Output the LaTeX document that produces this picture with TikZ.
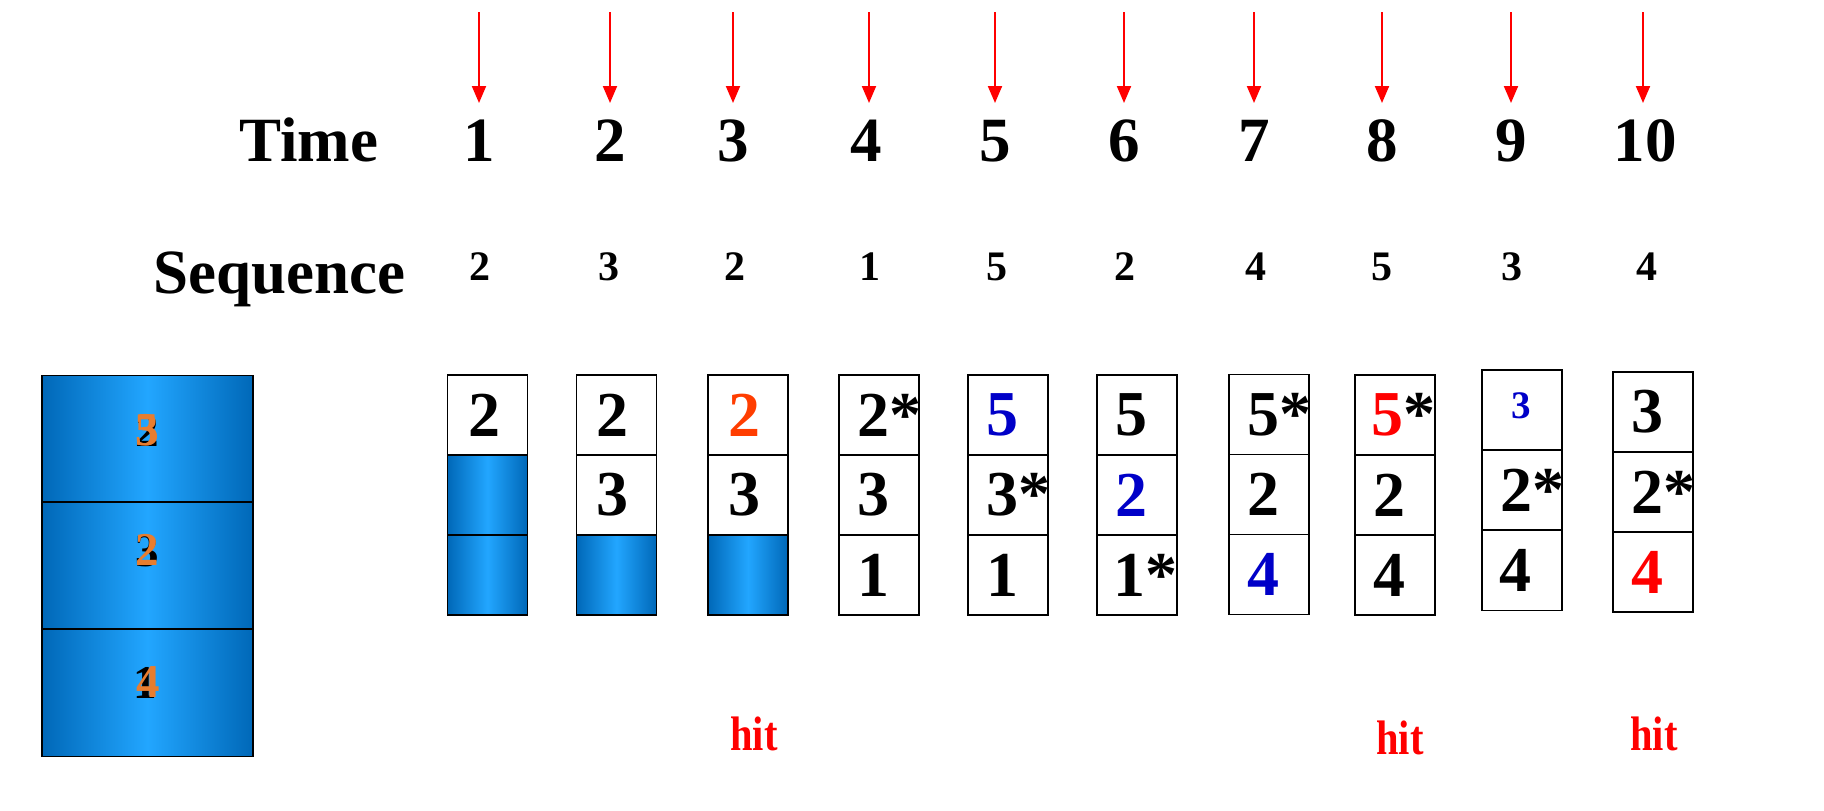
\documentclass[tikz,border=0pt]{standalone}
\usepackage{fontspec}
\setmainfont{Liberation Serif}
\usetikzlibrary{arrows.meta}
\definecolor{arrred}{HTML}{FF0000}
\definecolor{hitred}{HTML}{FF0000}
\definecolor{hotorange}{HTML}{FF3D00}
\definecolor{numblue}{HTML}{0000C8}
\definecolor{leftorange}{HTML}{E87D2F}
\definecolor{blueedge}{HTML}{0068B8}
\definecolor{bluemid}{HTML}{22A6FF}
\begin{document}
\begin{tikzpicture}[x=1pt,y=-1pt,
  cell/.style={draw=black, line width=1.6pt, minimum width=80pt, minimum height=80pt, inner sep=0pt, fill=white},
  bluecell/.style={draw=black, line width=1.6pt, minimum width=80pt, minimum height=80pt, inner sep=0pt,
     left color=blueedge, right color=blueedge, middle color=bluemid},
  bigcell/.style={draw=black, line width=1.6pt, minimum width=211pt, minimum height=127pt, inner sep=0pt,
     left color=blueedge, right color=blueedge, middle color=bluemid},
  bignum/.style={font=\fontsize{64}{64}\selectfont\bfseries, inner sep=0pt},
  seqnum/.style={font=\fontsize{42}{42}\selectfont\bfseries, inner sep=0pt, anchor=base},
  timenum/.style={font=\fontsize{63}{63}\selectfont\bfseries, inner sep=0pt, anchor=base},
  hitlabel/.style={font=\fontsize{44}{44}\selectfont\bfseries, text=hitred, inner sep=0pt, anchor=base, yscale=1.1, xscale=0.92},
  leftnum/.style={font=\fontsize{47}{47}\selectfont\bfseries, inner sep=0pt},
  redarrow/.style={draw=arrred, line width=2pt, -{Triangle[length=17pt,width=14pt]}}
]
\useasboundingbox (0,0) rectangle (1824,811);

% headers
\node[timenum] (timelbl) at (309,161) {Time};
\node[timenum] (seqlbl) at (279,293) {Sequence};

% time numbers
\node[timenum] (t1) at (479,161) {1};
\node[timenum] (t2) at (610,161) {2};
\node[timenum] (t3) at (733,161) {3};
\node[timenum] (t4) at (866,161) {4};
\node[timenum] (t5) at (995,161) {5};
\node[timenum] (t6) at (1124,161) {6};
\node[timenum] (t7) at (1254,161) {7};
\node[timenum] (t8) at (1382,161) {8};
\node[timenum] (t9) at (1511,161) {9};
\node[timenum] (t10) at (1645,161) {10};

% arrows
\foreach \i/\x in {1/479,2/610,3/733,4/869,5/995,6/1124,7/1254,8/1382,9/1511,10/1643}{
  \coordinate (a\i) at (\x,12);
  \coordinate (tip\i) at (\x,103);
  \draw[redarrow] (a\i) -- (tip\i);
}

% sequence numbers
\node[seqnum] (s1) at (480,280) {2};
\node[seqnum] (s2) at (609,280) {3};
\node[seqnum] (s3) at (735,280) {2};
\node[seqnum] (s4) at (870,280) {1};
\node[seqnum] (s5) at (997,280) {5};
\node[seqnum] (s6) at (1125,280) {2};
\node[seqnum] (s7) at (1256,280) {4};
\node[seqnum] (s8) at (1382,280) {5};
\node[seqnum] (s9) at (1512,280) {3};
\node[seqnum] (s10) at (1647,280) {4};

% left big block
\node[bigcell] (L1) at (147.5,439) {};
\node[bigcell] (L2) at (147.5,565.5) {};
\node[bigcell] (L3) at (147.5,693) {};
\node[leftnum, text=black] (L1b) at (147,431) {2};
\node[leftnum, text=leftorange] (L1c) at (147,430) {5};
\node[leftnum, text=leftorange] (L1d) at (147,430) {3};
\node[leftnum, text=black] (L2b) at (147,551) {3};
\node[leftnum, text=leftorange] (L2c) at (147,550) {2};
\node[leftnum, text=black] (L3b) at (145,683) {1};
\node[leftnum, text=leftorange] (L3c) at (148,682) {4};

% box 1
\node[cell] (b1a) at (487.5,415) {};
\node[bluecell] (b1b) at (487.5,495) {};
\node[bluecell] (b1c) at (487.5,575) {};
\node[bignum] (n1a) at ([xshift=-3pt]b1a.center) {2};
% box 2
\node[cell] (b2a) at (616.5,415) {};
\node[cell] (b2b) at (616.5,495) {};
\node[bluecell] (b2c) at (616.5,575) {};
\node[bignum] (n2a) at ([xshift=-4pt]b2a.center) {2};
\node[bignum] (n2b) at ([xshift=-4pt]b2b.center) {3};
% box 3
\node[cell] (b3a) at (748,415) {};
\node[cell] (b3b) at (748,495) {};
\node[bluecell] (b3c) at (748,575) {};
\node[bignum, text=hotorange] (n3a) at ([xshift=-4pt]b3a.center) {2};
\node[bignum] (n3b) at ([xshift=-4pt]b3b.center) {3};
% box 4
\node[cell] (b4a) at (879,415) {};
\node[cell] (b4b) at (879,495) {};
\node[cell] (b4c) at (879,575) {};
\node[bignum] (n4a) at ([xshift=-6pt]b4a.center) {2\rlap{*}};
\node[bignum] (n4b) at ([xshift=-6pt]b4b.center) {3};
\node[bignum] (n4c) at ([xshift=-6pt]b4c.center) {1};
% box 5
\node[cell] (b5a) at (1008,415) {};
\node[cell] (b5b) at (1008,495) {};
\node[cell] (b5c) at (1008,575) {};
\node[bignum, text=numblue] (n5a) at ([xshift=-6pt]b5a.center) {5};
\node[bignum] (n5b) at ([xshift=-6pt]b5b.center) {3\rlap{*}};
\node[bignum] (n5c) at ([xshift=-6pt]b5c.center) {1};
% box 6
\node[cell] (b6a) at (1137,415) {};
\node[cell] (b6b) at (1137,495) {};
\node[cell] (b6c) at (1137,575) {};
\node[bignum] (n6a) at ([xshift=-6pt]b6a.center) {5};
\node[bignum, text=numblue] (n6b) at ([xshift=-6pt]b6b.center) {2};
\node[bignum] (n6c) at ([xshift=-8pt]b6c.center) {1\rlap{*}};
% box 7
\node[cell] (b7a) at (1269,414.5) {};
\node[cell] (b7b) at (1269,494.5) {};
\node[cell] (b7c) at (1269,574.5) {};
\node[bignum] (n7a) at ([xshift=-6pt]b7a.center) {5\rlap{*}};
\node[bignum] (n7b) at ([xshift=-6pt]b7b.center) {2};
\node[bignum, text=numblue] (n7c) at ([xshift=-6pt]b7c.center) {4};
% box 8
\node[cell] (b8a) at (1395,415) {};
\node[cell] (b8b) at (1395,495) {};
\node[cell] (b8c) at (1395,575) {};
\node[bignum, text=hitred] (n8a) at ([xshift=-8pt]b8a.center) {5\rlap{\color{black}*}};
\node[bignum] (n8b) at ([xshift=-6pt]b8b.center) {2};
\node[bignum] (n8c) at ([xshift=-6pt]b8c.center) {4};
% box 9
\node[cell] (b9a) at (1522,410) {};
\node[cell] (b9b) at (1522,490) {};
\node[cell] (b9c) at (1522,570.5) {};
\node[font=\fontsize{39}{39}\selectfont\bfseries, text=numblue, inner sep=0pt] (n9a) at ([xshift=-1pt,yshift=4pt]b9a.center) {3};
\node[bignum] (n9b) at ([xshift=-6pt]b9b.center) {2\rlap{*}};
\node[bignum] (n9c) at ([xshift=-7pt]b9c.center) {4};
% box 10
\node[cell] (b10a) at (1653,412) {};
\node[cell] (b10b) at (1653,492) {};
\node[cell] (b10c) at (1653,572) {};
\node[bignum] (n10a) at ([xshift=-6pt]b10a.center) {3};
\node[bignum] (n10b) at ([xshift=-6pt]b10b.center) {2\rlap{*}};
\node[bignum, text=hitred] (n10c) at ([xshift=-6pt]b10c.center) {4};

% hit labels
\node[hitlabel] (hit1) at (754,750) {hit};
\node[hitlabel] (hit2) at (1400,754) {hit};
\node[hitlabel] (hit3) at (1654,750) {hit};
\end{tikzpicture}
\end{document}
